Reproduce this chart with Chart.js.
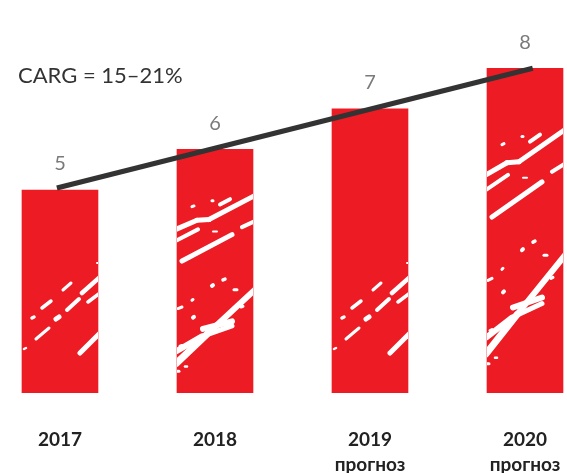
<!DOCTYPE html>
<html>
<head>
<meta charset="utf-8">
<script src="https://cdn.jsdelivr.net/npm/chart.js@4"></script>
<style>
  html, body { margin: 0; padding: 0; background: #fff; }
  #wrap { position: relative; width: 567px; height: 473px; }
</style>
</head>
<body>
<div id="wrap"><canvas id="c" width="567" height="473"></canvas></div>
<script>
const categories = [['2017'], ['2018'], ['2019', 'прогноз'], ['2020', 'прогноз']];
const values = [5, 6, 7, 8];
const trendX = [-0.02, 3.05];
const trendY = [5.05, 8.0];
const cagrText = 'CARG = 15–21%';

const red = '#ED1C24';

// decorative white brush-stroke texture, in bar-local units
// [x1, heightFromBottom1, x2, heightFromBottom2, lineWidth]
const brushA = [
  [75, 130, 76, 130, 2],
  [60, 100, 78, 116, 4.5],
  [66, 91, 78, 100, 3.5],
  [41, 103, 49, 110, 3],
  [20, 85, 29, 92, 3.5],
  [45, 83, 57, 94, 4],
  [10, 75, 12, 76, 3.5],
  [34, 74, 37, 76, 5],
  [14, 54, 27, 65, 3],
  [2, 44, 4, 45, 2.5],
  [58, 40, 78, 60, 5]
];
const brushB = [
  [-1, 217, 20, 229, 5],
  [20, 229, 32, 230, 5],
  [32, 230, 78, 262, 5],
  [-1, 202, 21, 217, 4],
  [5, 175, 55, 210, 5],
  [65, 220, 78, 228, 4],
  [43, 250, 53, 257, 4],
  [15, 247, 17, 248, 3],
  [35, 255, 36, 255, 3],
  [36, 214, 40, 214, 2],
  [-1, 39, 30, 78, 7],
  [30, 78, 78, 137, 6],
  [26, 85, 55, 95, 6],
  [-1, 55, 25, 75, 6],
  [25, 75, 55, 89, 5],
  [16, 100, 17, 101, 4],
  [15, 123, 16, 124, 3],
  [35, 142, 36, 143, 4],
  [46, 150, 48, 151, 3.5],
  [57, 137, 60, 137, 3],
  [64, 114, 66, 115, 3],
  [1, 112, 5, 114, 3],
  [3, 62, 5, 63, 3],
  [8, 35, 10, 35, 2.5],
  [0, 29, 2, 29, 3]
];

const barTexture = {
  id: 'barTexture',
  afterDatasetDraw(chart, args) {
    if (args.index !== 1) return;
    const ctx = chart.ctx;
    args.meta.data.forEach((bar, i) => {
      const left = bar.x - bar.width / 2;
      const top = Math.min(bar.y, bar.base);
      const h = Math.abs(bar.base - bar.y);
      const useB = i % 2 === 1;
      const strokes = useB ? brushB : brushA;
      const sy = useB ? h / 323 : 1;
      const sx = bar.width / 76;
      ctx.save();
      ctx.beginPath();
      ctx.rect(left, top, bar.width, h);
      ctx.clip();
      ctx.strokeStyle = '#ffffff';
      ctx.lineCap = 'round';
      strokes.forEach(s => {
        ctx.lineWidth = s[4];
        ctx.beginPath();
        ctx.moveTo(left + s[0] * sx, bar.base - s[1] * sy);
        ctx.lineTo(left + s[2] * sx, bar.base - s[3] * sy);
        ctx.stroke();
      });
      ctx.restore();
    });
  }
};

const valueLabels = {
  id: 'valueLabels',
  afterDatasetsDraw(chart) {
    const ctx = chart.ctx;
    const meta = chart.getDatasetMeta(1);
    ctx.save();
    ctx.font = '20px "Lato", "Noto Sans", sans-serif';
    ctx.fillStyle = '#7a7a7a';
    ctx.textAlign = 'center';
    ctx.textBaseline = 'middle';
    meta.data.forEach((bar, i) => {
      ctx.fillText(String(values[i]), bar.x, bar.y - 26);
    });
    ctx.font = '22px "Lato", "Noto Sans", sans-serif';
    ctx.fillStyle = '#333';
    ctx.textAlign = 'left';
    ctx.fillText(cagrText, 18, 76);
    ctx.restore();
  }
};

new Chart(document.getElementById('c'), {
  data: {
    datasets: [
      {
        type: 'line',
        data: trendX.map((x, i) => ({ x: x, y: trendY[i] })),
        borderColor: '#333333',
        borderWidth: 5,
        pointRadius: 0,
        fill: false,
        order: 0
      },
      {
        type: 'bar',
        data: values.map((v, i) => ({ x: i, y: v })),
        backgroundColor: red,
        barThickness: 76,
        borderWidth: 0,
        order: 1
      }
    ]
  },
  options: {
    responsive: false,
    animation: false,
    layout: { padding: 0 },
    plugins: { legend: { display: false }, tooltip: { enabled: false } },
    scales: {
      x: {
        type: 'linear',
        offset: false,
        min: -0.387,
        max: 3.271,
        grid: { display: false, drawTicks: false },
        border: { display: false },
        afterBuildTicks(scale) { scale.ticks = categories.map((c, i) => ({ value: i })); },
        afterFit(scale) {
          scale.height = 80;
          scale.paddingLeft = 0;
          scale.paddingRight = 0;
        },
        ticks: {
          autoSkip: false,
          maxRotation: 0,
          minRotation: 0,
          padding: 34,
          color: '#222',
          font: { family: '"Lato", "Noto Sans", sans-serif', size: 19, weight: 'bold', lineHeight: 1.32 },
          callback: (v) => categories[v] || ''
        }
      },
      y: {
        display: false,
        min: 0,
        max: 9.68
      }
    }
  },
  plugins: [barTexture, valueLabels]
});
</script>
</body>
</html>
